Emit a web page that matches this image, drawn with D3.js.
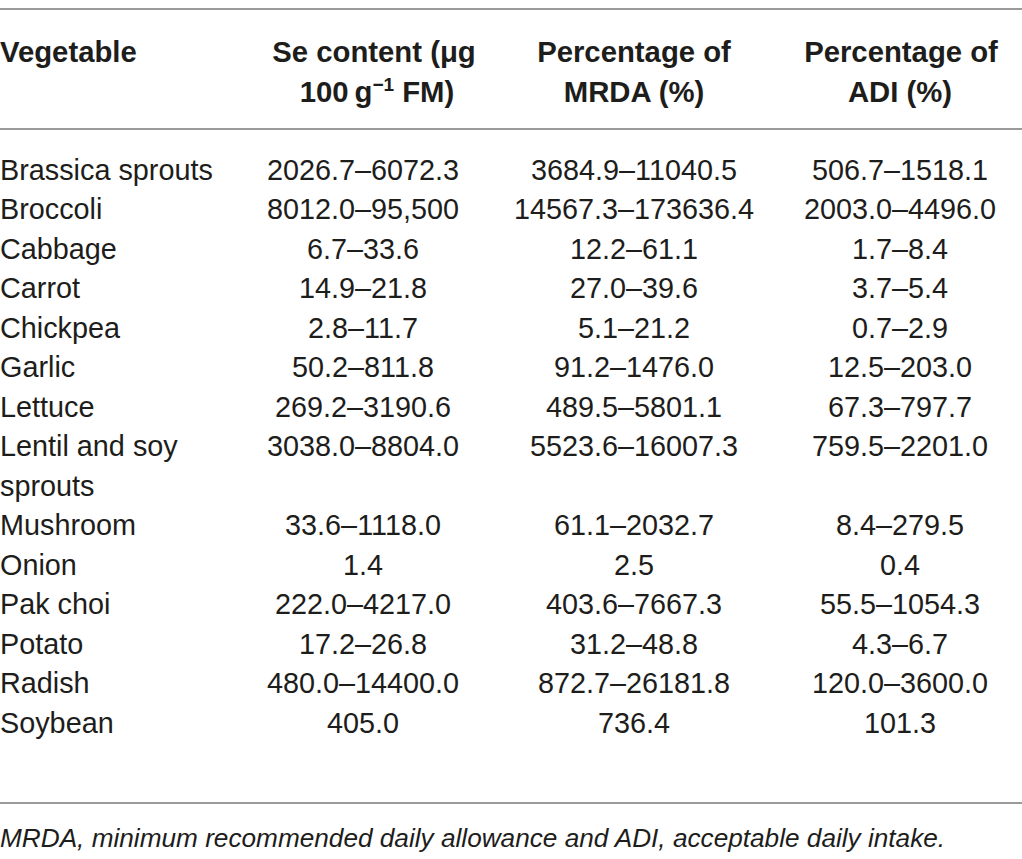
<!DOCTYPE html>
<html>
<head>
<meta charset="utf-8">
<script src="https://cdn.jsdelivr.net/npm/d3@7"></script>
<style>
  html, body { margin: 0; padding: 0; background: #fff; }
  svg { display: block; }
</style>
</head>
<body>
<svg id="chart" width="1022" height="859"></svg>
<script>
// ---- data ----
const vegetables = [
  ["Brassica sprouts"], ["Broccoli"], ["Cabbage"], ["Carrot"], ["Chickpea"],
  ["Garlic"], ["Lettuce"], ["Lentil and soy", "sprouts"], ["Mushroom"], ["Onion"],
  ["Pak choi"], ["Potato"], ["Radish"], ["Soybean"]
];
const seContent = ["2026.7–6072.3", "8012.0–95,500", "6.7–33.6", "14.9–21.8", "2.8–11.7",
  "50.2–811.8", "269.2–3190.6", "3038.0–8804.0", "33.6–1118.0", "1.4",
  "222.0–4217.0", "17.2–26.8", "480.0–14400.0", "405.0"];
const mrda = ["3684.9–11040.5", "14567.3–173636.4", "12.2–61.1", "27.0–39.6", "5.1–21.2",
  "91.2–1476.0", "489.5–5801.1", "5523.6–16007.3", "61.1–2032.7", "2.5",
  "403.6–7667.3", "31.2–48.8", "872.7–26181.8", "736.4"];
const adi = ["506.7–1518.1", "2003.0–4496.0", "1.7–8.4", "3.7–5.4", "0.7–2.9",
  "12.5–203.0", "67.3–797.7", "759.5–2201.0", "8.4–279.5", "0.4",
  "55.5–1054.3", "4.3–6.7", "120.0–3600.0", "101.3"];
const footnote = "MRDA, minimum recommended daily allowance and ADI, acceptable daily intake.";

// ---- layout ----
const svg = d3.select("#chart");
const font = "'Liberation Sans', Arial, Helvetica, sans-serif";
const ink = "#1d1d1b";
const rule = "#9a9a9a";

// assign line indices (multi-line names take extra lines)
let idx = 0;
const rows = vegetables.map((v, i) => {
  const r = { name: v, se: seContent[i], mrda: mrda[i], adi: adi[i], line: idx };
  idx += v.length;
  return r;
});
const y = d3.scaleLinear().domain([0, 1]).range([179.5, 179.5 + 39.5]);
const colX = { name: 0, se: 363, mrda: 634, adi: 900 };

// rules
[9, 129, 803].forEach(yy => {
  svg.append("line").attr("x1", 0).attr("x2", 1022).attr("y1", yy).attr("y2", yy)
    .attr("stroke", rule).attr("stroke-width", 2);
});

// header
const header = svg.append("g").attr("font-family", font).attr("font-weight", "bold")
  .attr("font-size", 29.3).attr("fill", ink);
header.append("text").attr("x", 0).attr("y", 62).text("Vegetable");
const h1 = header.append("text").attr("x", 375).attr("text-anchor", "middle");
h1.append("tspan").attr("x", 374).attr("y", 62).text("Se content (μg");
const h1b = h1.append("tspan").attr("x", 377).attr("y", 102);
h1b.append("tspan").text("100\u2009g");
h1b.append("tspan").attr("font-size", 19).attr("dy", -11).text("−1");
h1b.append("tspan").attr("dy", 11).text(" FM)");
const h2 = header.append("text").attr("text-anchor", "middle");
h2.append("tspan").attr("x", 634).attr("y", 62).text("Percentage of");
h2.append("tspan").attr("x", 634).attr("y", 102).text("MRDA (%)");
const h3 = header.append("text").attr("text-anchor", "middle");
h3.append("tspan").attr("x", 901).attr("y", 62).text("Percentage of");
h3.append("tspan").attr("x", 900).attr("y", 102).text("ADI (%)");

// body
const body = svg.append("g").attr("font-family", font).attr("font-size", 28.8).attr("fill", ink);
const g = body.selectAll("g.row").data(rows).join("g").attr("class", "row");
g.append("text").attr("x", colX.name)
  .each(function(d) {
    d3.select(this).selectAll("tspan").data(d.name).join("tspan")
      .attr("x", colX.name).attr("y", (t, j) => y(d.line + j)).text(t => t);
  });
g.append("text").attr("x", colX.se).attr("y", d => y(d.line)).attr("text-anchor", "middle").text(d => d.se);
g.append("text").attr("x", colX.mrda).attr("y", d => y(d.line)).attr("text-anchor", "middle").text(d => d.mrda);
g.append("text").attr("x", colX.adi).attr("y", d => y(d.line)).attr("text-anchor", "middle").text(d => d.adi);

// footnote
svg.append("text").attr("x", 0).attr("y", 847).attr("font-family", font)
  .attr("font-style", "italic").attr("font-size", 26.2).attr("fill", ink).text(footnote);
</script>
</body>
</html>
